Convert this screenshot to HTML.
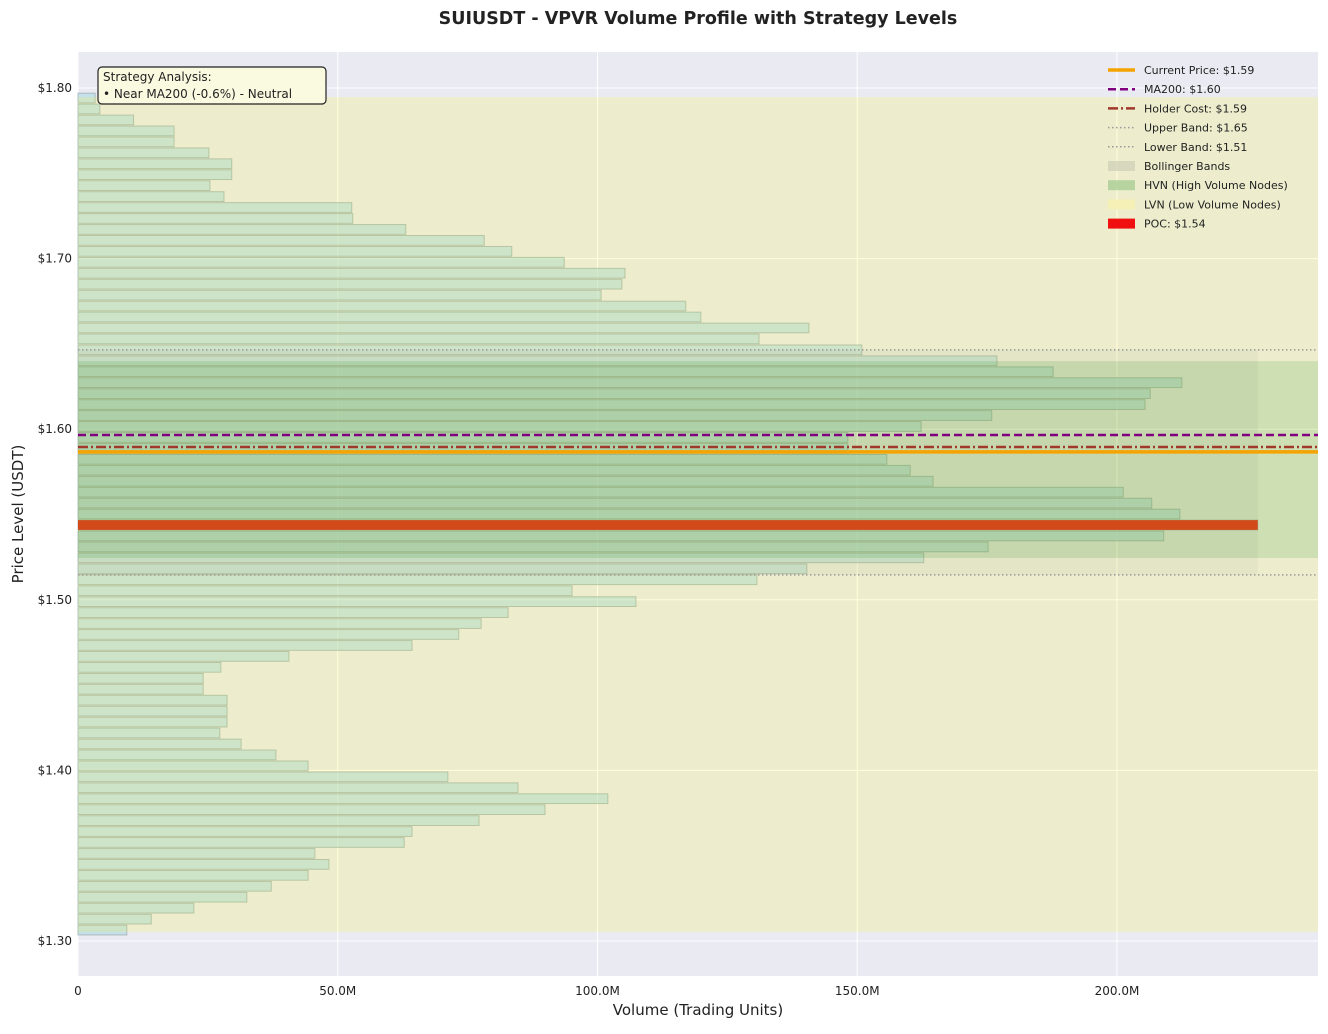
<!DOCTYPE html>
<html><head><meta charset="utf-8"><style>
body{margin:0;background:#fff;}
svg text{font-family:"DejaVu Sans","Liberation Sans",sans-serif;}
</style></head><body>
<svg id="chart" width="1328" height="1029" xmlns="http://www.w3.org/2000/svg">
<rect x="0" y="0" width="1328" height="1029" fill="#fff"/>
<text x="698" y="24" text-anchor="middle" font-size="17.5" font-weight="bold" fill="#222">SUIUSDT - VPVR Volume Profile with Strategy Levels</text>
<rect x="78" y="52" width="1240" height="924" fill="#eaeaf2"/>
<g id="grid"></g>
<g id="bars"></g>
<g id="bands"></g>
<g id="lines"></g>
<g id="axes"></g>
<g>
<rect x="98" y="67" width="228" height="37" rx="4" fill="#fafae0" stroke="#222" stroke-width="1.2"/>
<text x="103" y="81" font-size="12" fill="#222">Strategy Analysis:</text>
<text x="103" y="98" font-size="12" fill="#222">• Near MA200 (-0.6%) - Neutral</text>
</g>
<g id="legend"></g>
<text x="698" y="1015" text-anchor="middle" font-size="15" fill="#222">Volume (Trading Units)</text>
<text transform="translate(23,514) rotate(-90)" text-anchor="middle" font-size="15" fill="#222">Price Level (USDT)</text>
</svg>
<script>
// Volume per price bin (millions), ascending price
const volumes = [9.4,14.1,22.3,32.5,37.2,44.3,48.3,45.6,62.8,64.3,77.2,89.9,102.0,84.7,71.2,44.3,38.1,31.4,27.3,28.7,28.7,28.7,24.1,24.1,27.5,40.6,64.3,73.3,77.6,82.8,107.4,95.1,130.7,140.3,162.8,175.2,209.0,227.1,212.1,206.7,201.2,164.6,160.2,155.7,148.2,148.2,162.3,175.9,205.4,206.4,212.5,187.7,176.9,150.9,131.1,140.7,119.9,117.0,100.7,104.7,105.3,93.6,83.5,78.2,63.1,52.9,52.7,28.1,25.4,29.6,29.6,25.2,18.5,18.5,10.7,4.2,3.3];
const priceStart = [1.3032];
const binSize = [0.006417];
const xTicks = [0,50,100,150,200];
const xTickLabels = ["0","50.0M","100.0M","150.0M","200.0M"];
const yTicks = [1.30,1.40,1.50,1.60,1.70,1.80];
const yTickLabels = ["$1.30","$1.40","$1.50","$1.60","$1.70","$1.80"];
const levelNames = ["current","ma200","holder","upper","lower","poc"];
const levelValues = [1.5867,1.5966,1.5896,1.6465,1.5146,1.5448];
const hvnRange = [1.5245,1.6399];
const lvnRange = [1.3053,1.7947];

const NS="http://www.w3.org/2000/svg";
const X0=78,X1=1318,Y0=52,Y1=976,XMAX=238.7;
const xs=v=>X0+v/XMAX*(X1-X0);
const ys=p=>941-(p-1.3)*1706;
function mk(tag,attrs,parent){const e=document.createElementNS(NS,tag);for(const k in attrs)e.setAttribute(k,attrs[k]);parent.appendChild(e);return e;}
const grid=document.getElementById('grid'),bars=document.getElementById('bars'),bands=document.getElementById('bands'),lines=document.getElementById('lines'),axes=document.getElementById('axes'),legend=document.getElementById('legend');

xTicks.forEach((t,i)=>{
  const g=mk('line',{x1:xs(t),x2:xs(t),y1:Y0,y2:Y1,stroke:'#fff','stroke-width':1},grid);
  
  
  const tx=mk('text',{x:xs(t),y:995,'text-anchor':'middle','font-size':12,fill:'#222'},axes);
  tx.textContent=xTickLabels[i];
  
  
});
yTicks.forEach((t,i)=>{
  const g=mk('line',{x1:X0,x2:X1,y1:ys(t),y2:ys(t),stroke:'#fff','stroke-width':1},grid);
  
  
  const tx=mk('text',{x:72,y:ys(t)+4,'text-anchor':'end','font-size':12,fill:'#222'},axes);
  tx.textContent=yTickLabels[i];
  
  
});

const pocIdx=volumes.indexOf(Math.max(...volumes));
volumes.forEach((v,i)=>{
  const lo=priceStart[0]+i*binSize[0], hi=lo+binSize[0];
  const yTop=ys(hi)+0.6, h=ys(lo)-ys(hi)-1.2;
  const r=mk('rect',{x:X0,y:yTop,width:xs(v)-X0,height:h,fill:'rgba(173,216,230,0.6)',stroke:'rgba(150,170,170,0.7)','stroke-width':1},bars);
  
  
});

const lvn=mk('rect',{x:X0,y:ys(lvnRange[1]),width:X1-X0,height:ys(lvnRange[0])-ys(lvnRange[1]),fill:'rgba(255,255,0,0.15)'},bands);


const bb=mk('rect',{x:X0,y:ys(levelValues[3]),width:xs(Math.max(...volumes))-X0,height:ys(levelValues[4])-ys(levelValues[3]),fill:'rgba(128,128,128,0.08)'},bands);


const hvn=mk('rect',{x:X0,y:ys(hvnRange[1]),width:X1-X0,height:ys(hvnRange[0])-ys(hvnRange[1]),fill:'rgba(0,128,0,0.13)'},bands);



{
  const lo=priceStart[0]+pocIdx*binSize[0], hi=lo+binSize[0];
  const p=mk('rect',{x:X0,y:ys(hi)+0.6,width:xs(volumes[pocIdx])-X0,height:ys(lo)-ys(hi)-1.2,fill:'#d24a1a'},lines);
  
  
}
const styles={
  upper:{stroke:'#999','stroke-width':1.5,'stroke-dasharray':'1.5 2.5'},
  lower:{stroke:'#999','stroke-width':1.5,'stroke-dasharray':'1.5 2.5'},
  ma200:{stroke:'#800080','stroke-width':2.5,'stroke-dasharray':'8 4'},
  holder:{stroke:'#a0392b','stroke-width':2.5,'stroke-dasharray':'10 3 2 3'},
  current:{stroke:'#f5a300','stroke-width':3.5}
};
["upper","lower","ma200","holder","current"].forEach(n=>{
  const v=levelValues[levelNames.indexOf(n)];
  const l=mk('line',Object.assign({x1:X0,x2:X1,y1:ys(v),y2:ys(v)},styles[n]),lines);
  
  
});

const items=[
 ["Current Price: $1.59",'line',styles.current],
 ["MA200: $1.60",'line',styles.ma200],
 ["Holder Cost: $1.59",'line',styles.holder],
 ["Upper Band: $1.65",'line',styles.upper],
 ["Lower Band: $1.51",'line',styles.lower],
 ["Bollinger Bands",'patch','rgba(200,200,180,0.6)'],
 ["HVN (High Volume Nodes)",'patch','rgba(160,200,140,0.7)'],
 ["LVN (Low Volume Nodes)",'patch','rgba(245,240,180,0.9)'],
 ["POC: $1.54",'patch','#f01010']
];
items.forEach((it,i)=>{
  const y=70+i*19.2;
  if(it[1]==='line'){
    const l=mk('line',Object.assign({x1:1108,x2:1135,y1:y,y2:y},it[2]),legend);
    
    
  } else {
    const r=mk('rect',{x:1108,y:y-5,width:27,height:10,fill:it[2]},legend);
    
    
  }
  const t=mk('text',{x:1144,y:y+4,'font-size':11,fill:'#222'},legend);
  t.textContent=it[0];
  
  
});
</script>
</body></html>
